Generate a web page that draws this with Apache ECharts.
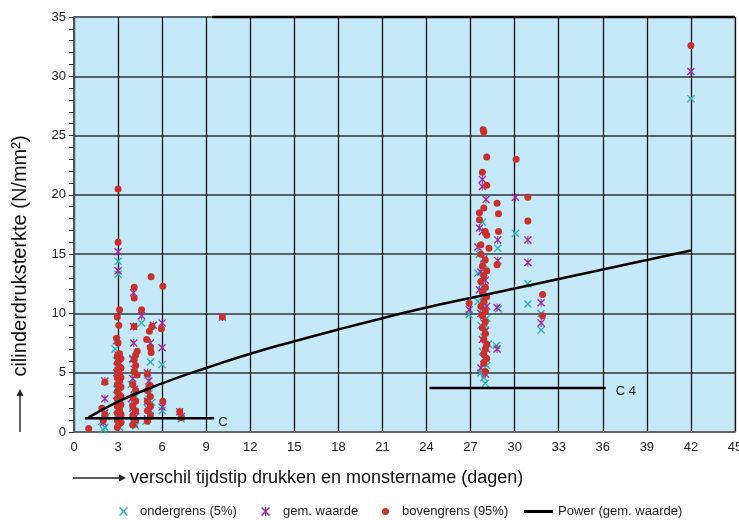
<!DOCTYPE html>
<html>
<head>
<meta charset="utf-8">
<script src="https://cdn.jsdelivr.net/npm/echarts@6/dist/echarts.min.js"></script>
<style>html,body{margin:0;padding:0;background:#fff}#c{width:739px;height:520px}</style>
</head>
<body>
<div id="c"></div>
<script>
// ---- data ----
const xTicks = [0, 45, 3];   // min, max, step
const yTicks = [0, 35, 5];

const ondergrens = [
  [2.0,0.2],[2.1,0.4],[1.9,0.9],[2.2,1.3],[3.0,14.4],[3.0,13.3],[2.8,7.0],[2.9,6.0],[3.0,5.2],[3.1,4.4],
  [2.9,3.6],[3.0,2.8],[3.1,2.0],[2.9,1.4],[3.0,0.8],[3.1,0.4],[3.2,1.1],[4.0,6.1],[4.1,5.0],[3.9,4.0],
  [4.2,3.0],[4.0,2.2],[4.1,1.4],[4.0,0.9],[4.2,0.5],[4.6,9.2],[5.0,4.8],[5.2,5.9],[5.1,3.2],[5.0,2.0],
  [5.2,1.4],[4.9,0.9],[6.0,5.7],[6.0,1.8],[7.3,1.1],[5.3,2.5],
  [26.9,9.9],[27.5,13.4],[27.8,17.7],[27.6,15.0],[27.9,14.2],[27.7,12.4],[28.0,11.8],[27.5,11.0],[27.8,10.4],
  [28.1,9.6],[27.7,9.0],[28.0,8.6],[27.9,8.0],[28.2,7.4],[27.8,6.8],[28.1,5.6],[27.7,5.0],[27.9,4.6],[28.0,4.1],
  [28.85,15.5],[28.9,10.4],[28.75,7.3],[30.05,16.75],[30.9,12.5],[30.9,10.8],[31.8,10.0],[31.8,8.6],[42.0,28.1]
];
const gemWaarde = [
  [2.0,0.8],[2.1,1.6],[2.1,2.8],[2.1,4.3],[3.0,15.2],[3.0,13.6],[2.9,7.7],[3.0,6.5],[3.1,5.8],[2.9,5.0],
  [3.0,4.2],[3.1,3.4],[2.9,2.6],[3.0,1.8],[3.1,1.0],[4.05,11.75],[4.05,8.9],[4.07,7.5],[4.0,6.2],[4.1,5.3],
  [4.0,4.5],[4.1,3.6],[3.9,2.8],[4.0,2.0],[4.2,1.3],[4.1,0.7],[4.6,9.8],[5.0,5.0],[5.2,7.5],[5.4,9.0],
  [5.1,4.3],[5.0,2.6],[5.2,1.8],[5.0,1.1],[6.0,9.2],[6.0,7.1],[6.0,2.1],[7.2,1.7],[7.3,1.3],[10.1,9.7],
  [26.9,10.3],[27.8,21.3],[27.8,20.7],[28.05,19.6],[27.6,17.2],[27.8,16.9],[27.5,15.6],[27.9,14.6],[27.7,13.5],
  [28.0,12.8],[27.6,12.0],[27.9,11.2],[28.1,10.6],[27.7,10.0],[27.9,9.2],[28.0,8.5],[27.8,7.8],[28.1,7.0],
  [27.9,6.2],[27.7,5.4],[28.0,4.9],[28.85,16.2],[28.85,14.45],[28.8,10.5],[28.8,7.0],[30.05,19.8],[30.9,16.2],
  [30.9,14.3],[31.8,10.9],[31.8,9.2],[42.0,30.4]
];
const bovengrens = [
  [1.0,0.3],[2.0,1.0],[2.1,1.5],[1.9,2.0],[2.1,4.2],[3.0,20.5],[3.0,16.0],[3.1,10.3],[2.95,9.7],[3.05,9.0],
  [2.9,7.9],[3.0,7.5],
  [2.95,0.4],[3.1,0.7],[2.95,1.0],[3.1,1.3],[2.95,1.6],[3.1,1.9],[2.95,2.2],[3.1,2.5],[2.95,2.8],[3.1,3.1],
  [2.95,3.4],[3.1,3.7],[2.95,4.0],[3.1,4.3],[2.95,4.6],[3.1,4.9],[2.95,5.2],[3.1,5.5],[2.95,5.8],[3.1,6.1],
  [2.95,6.4],[3.1,6.6],[3.2,0.8],[3.2,1.5],[3.2,2.3],[3.2,3.0],[3.2,3.8],[3.2,4.6],[3.2,5.4],[3.2,6.2],
  [4.1,12.2],[4.1,11.3],[4.1,8.9],[4.6,10.3],
  [4.0,0.6],[4.2,1.0],[4.0,1.4],[4.2,1.8],[4.0,2.2],[4.2,2.6],[4.0,3.0],[4.2,3.5],[4.0,4.0],[4.3,4.8],
  [4.1,5.1],[4.2,5.6],[4.1,6.1],[4.2,6.5],[4.3,6.8],
  [5.25,13.1],[6.05,12.3],[5.3,8.9],[5.13,8.5],[4.95,7.8],[5.2,7.1],[5.25,6.7],[5.95,8.7],[5.0,4.9],[5.1,3.8],
  [5.0,0.9],[5.2,1.3],[5.0,1.8],[5.2,2.2],[5.0,2.6],[5.2,3.0],[5.0,3.5],[5.2,3.9],
  [6.05,2.6],[7.2,1.7],[7.3,1.2],[10.1,9.7],
  [27.86,25.5],[27.9,25.3],[28.1,23.2],[30.1,23.0],[27.8,21.9],[28.1,20.8],[30.9,19.8],[28.8,19.3],[27.9,18.9],
  [27.6,18.5],[27.6,17.9],[28.9,18.4],[30.9,17.8],[28.0,16.9],[28.1,16.6],[28.9,16.9],[27.7,15.8],[28.25,15.5],
  [28.8,14.1],[31.9,11.6],[26.9,10.85],[31.9,9.8],[42.0,32.6],
  [28.0,5.1],[27.9,5.8],[28.1,6.2],[27.9,6.6],[28.0,7.0],[28.1,7.4],[27.9,7.8],[28.0,8.3],[27.8,8.8],[28.0,9.3],
  [27.8,9.8],[28.0,10.2],[27.7,10.6],[27.9,11.0],[28.1,11.4],[27.8,11.8],[28.0,12.2],[27.7,12.7],[27.9,13.2],
  [28.1,13.6],[27.8,14.0],[28.0,14.5],[27.7,15.0]
];
// Power trend line (gem. waarde), read at these x positions
const powerX = [1, 3, 6, 9, 12, 15, 18, 21, 24, 27, 30, 33, 36, 39, 42];
const powerY = [1.23, 2.57, 4.1, 5.4, 6.6, 7.65, 8.65, 9.6, 10.5, 11.3, 12.1, 12.9, 13.7, 14.5, 15.3];
// reference levels
const levelC = { x: [0.75, 9.55], y: 1.15, label: 'C' };
const levelC4 = { x: [24.2, 36.2], y: 3.71, label: 'C 4' };
const names = ['ondergrens (5%)', 'gem. waarde', 'bovengrens (95%)', 'Power (gem. waarde)'];

// ---- chart ----
const crossPath = 'path://M0,1.2L1.2,0L5,3.8L8.8,0L10,1.2L6.2,5L10,8.8L8.8,10L5,6.2L1.2,10L0,8.8L3.8,5Z';
const starPath = 'path://M0,1.2L1.2,0L5,3.8L8.8,0L10,1.2L6.2,5L10,8.8L8.8,10L5,6.2L1.2,10L0,8.8L3.8,5Z M4.4,0L5.6,0L5.6,10L4.4,10Z';
const teal = '#2bb3b3', purple = '#9a2f9c', red = '#c9302a';
const FONT = '"Liberation Sans", Arial, sans-serif';

const chart = echarts.init(document.getElementById('c'), null, { renderer: 'canvas' });
const legendBase = (name, left, icon, w, h, pad) => ({
  data: [{ name: name, icon: icon }], left: left, top: 505, itemWidth: w, itemHeight: h,
  padding: 0, textStyle: { fontSize: 13, color: '#222', fontFamily: FONT, padding: [0, 0, 0, pad] }
});
chart.setOption({
  animation: false,
  backgroundColor: '#ffffff',
  grid: { left: 74, right: 4, top: 17, bottom: 88, outerBoundsMode: 'none', containLabel: false,
          show: true, backgroundColor: '#c6e9f9', borderColor: '#888', borderWidth: 1 },
  xAxis: {
    type: 'value', min: xTicks[0], max: xTicks[1], interval: xTicks[2],
    axisLine: { lineStyle: { color: '#666', width: 2 } },
    axisTick: { show: false },
    axisLabel: { color: '#222', fontSize: 13, fontFamily: FONT, margin: 9 },
    splitLine: { lineStyle: { color: '#111', width: 1.3 } }
  },
  yAxis: {
    type: 'value', min: yTicks[0], max: yTicks[1], interval: yTicks[2],
    axisLine: { show: true, lineStyle: { color: '#555', width: 2 } },
    axisTick: { show: true, length: 5, lineStyle: { color: '#333' } },
    minorTick: { show: true, splitNumber: 5, length: 5, lineStyle: { color: '#333' } },
    axisLabel: { color: '#222', fontSize: 13, fontFamily: FONT, margin: 8 },
    splitLine: { lineStyle: { color: '#56656b', width: 2 } }
  },
  legend: [
    legendBase(names[0], 119, crossPath, 9, 9, 7),
    legendBase(names[1], 261, starPath, 9, 9, 8),
    legendBase(names[2], 382, 'circle', 7, 7, 8),
    legendBase(names[3], 524, 'rect', 29, 3, 0)
  ],
  series: [
    { name: names[0], type: 'scatter', data: ondergrens, symbol: crossPath, symbolSize: 8, itemStyle: { color: teal, opacity: 1 } },
    { name: names[1], type: 'scatter', data: gemWaarde, symbol: starPath, symbolSize: 8, itemStyle: { color: purple, opacity: 1 } },
    { name: names[2], type: 'scatter', data: bovengrens, symbol: 'circle', symbolSize: 7, itemStyle: { color: red, opacity: 1 } },
    { name: names[3], type: 'line', smooth: true, showSymbol: false, data: powerX.map((x, i) => [x, powerY[i]]),
      lineStyle: { color: '#000', width: 2.5 }, itemStyle: { color: '#000' } },
    { name: 'C', type: 'line', showSymbol: false, data: levelC.x.map(x => [x, levelC.y]),
      lineStyle: { color: '#000', width: 2.5 },
      endLabel: { show: true, formatter: levelC.label, fontSize: 13, color: '#222', fontFamily: FONT, distance: 4, offset: [0, 4] } },
    { name: 'C4', type: 'line', showSymbol: false, data: levelC4.x.map(x => [x, levelC4.y]),
      lineStyle: { color: '#000', width: 2.5 },
      endLabel: { show: true, formatter: levelC4.label, fontSize: 13, color: '#222', fontFamily: FONT, distance: 10, offset: [0, 3] } },
    { name: 'frame', type: 'line', showSymbol: false, clip: false, silent: true, data: [[9.4, 35], [45, 35]],
      lineStyle: { color: '#000', width: 2.5 } }
  ],
  graphic: [
    { type: 'line', shape: { x1: 73, y1: 478, x2: 120, y2: 478 }, style: { stroke: '#222', lineWidth: 1.4 } },
    { type: 'polygon', shape: { points: [[126, 478], [119, 474.5], [119, 481.5]] }, style: { fill: '#222' } },
    { type: 'text', x: 130, y: 478, style: { text: 'verschil tijdstip drukken en monstername (dagen)', font: '18px ' + FONT, fill: '#111', verticalAlign: 'middle', align: 'left' } },
    { type: 'line', shape: { x1: 20, y1: 432, x2: 20, y2: 395 }, style: { stroke: '#222', lineWidth: 1.4 } },
    { type: 'polygon', shape: { points: [[20, 389], [16.5, 396], [23.5, 396]] }, style: { fill: '#222' } },
    { type: 'text', x: 20, y: 256, rotation: Math.PI / 2, style: { text: 'cilinderdruksterkte (N/mm²)', font: '20px ' + FONT, fill: '#111', verticalAlign: 'middle', align: 'center' } }
  ]
});
</script>
</body>
</html>
